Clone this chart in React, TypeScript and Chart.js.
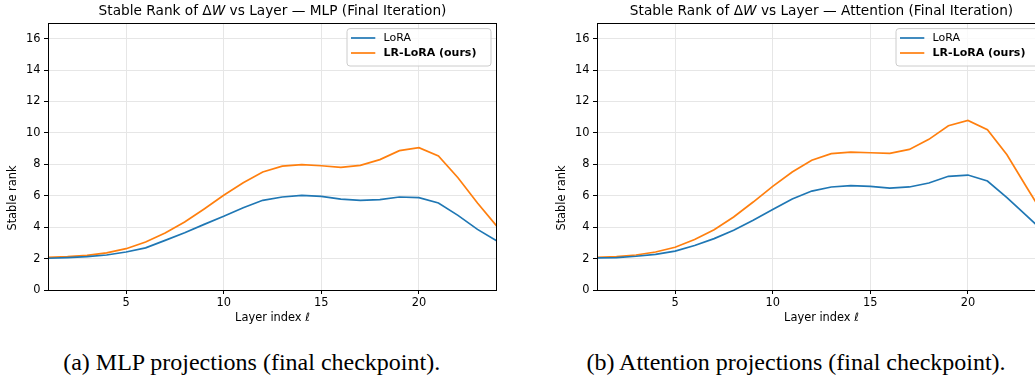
import React, { useEffect, useRef } from 'react';
import { Chart, registerables } from 'chart.js';

Chart.register(...registerables);

// ---------------- data ----------------
const layers = [1, 2, 3, 4, 5, 6, 7, 8, 9, 10, 11, 12, 13, 14, 15, 16, 17, 18, 19, 20, 21, 22, 23, 24];
const xTickValues = [5, 10, 15, 20];
const yTickValues = [0, 2, 4, 6, 8, 10, 12, 14, 16];
const seriesLabels = ['LoRA', 'LR-LoRA (ours)'];
const seriesColors = ['#1f77b4', '#ff7f0e'];

const mlpLora = [2.02, 2.06, 2.12, 2.23, 2.42, 2.68, 3.16, 3.65, 4.18, 4.69, 5.24, 5.71, 5.92, 6.03, 5.96, 5.79, 5.71, 5.75, 5.92, 5.88, 5.54, 4.75, 3.86, 3.12];
const mlpLrLora = [2.08, 2.12, 2.2, 2.36, 2.63, 3.06, 3.63, 4.33, 5.16, 6.03, 6.83, 7.51, 7.89, 7.98, 7.91, 7.81, 7.94, 8.3, 8.87, 9.06, 8.53, 7.15, 5.54, 4.05];
const attnLora = [2.04, 2.06, 2.15, 2.27, 2.48, 2.83, 3.27, 3.8, 4.44, 5.12, 5.79, 6.3, 6.56, 6.64, 6.6, 6.49, 6.56, 6.81, 7.24, 7.32, 6.94, 5.88, 4.73, 3.58];
const attnLrLora = [2.08, 2.12, 2.23, 2.42, 2.72, 3.21, 3.84, 4.65, 5.6, 6.6, 7.51, 8.26, 8.68, 8.78, 8.74, 8.7, 8.95, 9.59, 10.46, 10.8, 10.21, 8.61, 6.56, 4.55];

const mlpTitle = 'Stable Rank of ΔW vs Layer — MLP (Final Iteration)';
const attnTitle = 'Stable Rank of ΔW vs Layer — Attention (Final Iteration)';
const xAxisTitle = 'Layer index ℓ';
const yAxisTitle = 'Stable rank';
const captions = ['(a) MLP projections (final checkpoint).', '(b) Attention projections (final checkpoint).'];

// ---------------- layout constants ----------------
const FONT = "'DejaVu Sans', sans-serif";
const CW = 520;
const CH = 335;

function Panel({ title, lora, lr, left }: { title: string; lora: number[]; lr: number[]; left: number }) {
  const ref = useRef<HTMLCanvasElement | null>(null);

  useEffect(() => {
    const canvas = ref.current;
    if (!canvas) return;

    const decor = {
      id: 'decor',
      afterDatasetsDraw(chart: any) {
        const { ctx, chartArea: a } = chart;
        ctx.save();
        // spines
        ctx.strokeStyle = '#000';
        ctx.lineWidth = 1;
        ctx.strokeRect(a.left + 0.5, a.top + 0.5, a.right - a.left - 1, a.bottom - a.top);

        // title with italic W
        const size = 13.7;
        const idx = title.indexOf('ΔW');
        const p1 = title.slice(0, idx + 1);
        const p2 = 'W';
        const p3 = title.slice(idx + 2);
        ctx.fillStyle = '#000';
        ctx.textBaseline = 'alphabetic';
        ctx.textAlign = 'left';
        ctx.font = `${size}px ${FONT}`;
        const w1 = ctx.measureText(p1).width;
        const w3 = ctx.measureText(p3).width;
        ctx.font = `italic ${size}px ${FONT}`;
        const w2 = ctx.measureText(p2).width;
        const total = w1 + w2 + w3;
        let x = (a.left + a.right) / 2 - total / 2;
        const ty = 15;
        ctx.font = `${size}px ${FONT}`;
        ctx.fillText(p1, x, ty);
        x += w1;
        ctx.font = `italic ${size}px ${FONT}`;
        ctx.fillText(p2, x, ty);
        x += w2;
        ctx.font = `${size}px ${FONT}`;
        ctx.fillText(p3, x, ty);

        // y label
        ctx.save();
        ctx.translate(13, 198);
        ctx.rotate(-Math.PI / 2);
        ctx.font = `11.4px ${FONT}`;
        ctx.textAlign = 'center';
        ctx.textBaseline = 'middle';
        ctx.fillText(yAxisTitle, 0, 0);
        ctx.restore();

        // legend
        const bx = a.right - 150;
        const by = a.top + 5.6;
        const bw = 144;
        const bh = 37.4;
        ctx.beginPath();
        if ((ctx as any).roundRect) (ctx as any).roundRect(bx, by, bw, bh, 3);
        else ctx.rect(bx, by, bw, bh);
        ctx.fillStyle = 'rgba(255,255,255,0.8)';
        ctx.fill();
        ctx.strokeStyle = '#cccccc';
        ctx.lineWidth = 1;
        ctx.stroke();
        seriesLabels.forEach((lab, i) => {
          const ry = a.top + 15 + i * 15;
          ctx.beginPath();
          ctx.strokeStyle = seriesColors[i];
          ctx.lineWidth = 1.7;
          ctx.moveTo(bx + 4, ry);
          ctx.lineTo(bx + 28.3, ry);
          ctx.stroke();
          ctx.fillStyle = '#000';
          ctx.font = `${i === 1 ? 'bold ' : ''}11px ${FONT}`;
          ctx.textAlign = 'left';
          ctx.textBaseline = 'middle';
          ctx.fillText(lab, bx + 36.6, ry + 0.5);
        });
        ctx.restore();
      },
    };

    const chart = new Chart(canvas, {
      type: 'line',
      data: {
        datasets: [
          {
            label: seriesLabels[0],
            data: layers.map((l, i) => ({ x: l, y: lora[i] })),
            borderColor: seriesColors[0],
            backgroundColor: seriesColors[0],
            borderWidth: 1.7,
            pointRadius: 0,
            tension: 0,
            fill: false,
          },
          {
            label: seriesLabels[1],
            data: layers.map((l, i) => ({ x: l, y: lr[i] })),
            borderColor: seriesColors[1],
            backgroundColor: seriesColors[1],
            borderWidth: 1.7,
            pointRadius: 0,
            tension: 0,
            fill: false,
          },
        ],
      },
      options: {
        animation: false,
        responsive: false,
        devicePixelRatio: 1,
        layout: { padding: { top: 23, right: CW - 497, bottom: 0, left: 0 } },
        plugins: {
          legend: { display: false },
          title: { display: false },
          tooltip: { enabled: false },
        },
        scales: {
          x: {
            type: 'linear',
            min: 1,
            max: 24,
            afterBuildTicks: (s: any) => {
              s.ticks = xTickValues.map((v) => ({ value: v }));
            },
            afterFit: (s: any) => {
              s.height = CH - 290;
            },
            border: { display: false },
            grid: { color: '#e6e6e6', lineWidth: 1, drawTicks: true, tickLength: 4, tickColor: '#000', tickWidth: 1 },
            ticks: {
              color: '#000',
              font: { family: FONT, size: 11.4 },
              padding: 2,
              maxRotation: 0,
              autoSkip: false,
              callback: (v: any) => String(v),
            },
            title: {
              display: true,
              text: xAxisTitle,
              color: '#000',
              font: { family: FONT, size: 11.4 },
              padding: { top: 0, bottom: 9.7 },
            },
          },
          y: {
            type: 'linear',
            min: 0,
            max: 17,
            afterBuildTicks: (s: any) => {
              s.ticks = yTickValues.map((v) => ({ value: v }));
            },
            afterFit: (s: any) => {
              s.width = 48;
            },
            border: { display: false },
            grid: { color: '#e6e6e6', lineWidth: 1, drawTicks: true, tickLength: 4, tickColor: '#000', tickWidth: 1 },
            ticks: {
              color: '#000',
              font: { family: FONT, size: 11.4 },
              padding: 3.5,
              autoSkip: false,
              callback: (v: any) => String(v),
            },
          },
        },
      },
      plugins: [decor],
    } as any);

    return () => chart.destroy();
  }, [title, lora, lr]);

  return (
    <canvas
      ref={ref}
      width={CW}
      height={CH}
      style={{ position: 'absolute', left, top: 0, width: CW, height: CH }}
    />
  );
}

const captionStyle: React.CSSProperties = {
  position: 'absolute',
  top: 350,
  fontFamily: "'Liberation Serif', 'Times New Roman', serif",
  fontSize: 24,
  lineHeight: '24px',
  whiteSpace: 'nowrap',
  transform: 'translateX(-50%)',
  color: '#000',
};

export default function App() {
  return (
    <div
      style={{
        position: 'fixed',
        left: 0,
        top: 0,
        width: 1035,
        height: 375,
        overflow: 'hidden',
        background: '#fff',
      }}
    >
      <Panel title={mlpTitle} lora={mlpLora} lr={mlpLrLora} left={0} />
      <Panel title={attnTitle} lora={attnLora} lr={attnLrLora} left={549} />
      <div style={{ ...captionStyle, left: 251.7 }}>{captions[0]}</div>
      <div style={{ ...captionStyle, left: 796 }}>{captions[1]}</div>
    </div>
  );
}
